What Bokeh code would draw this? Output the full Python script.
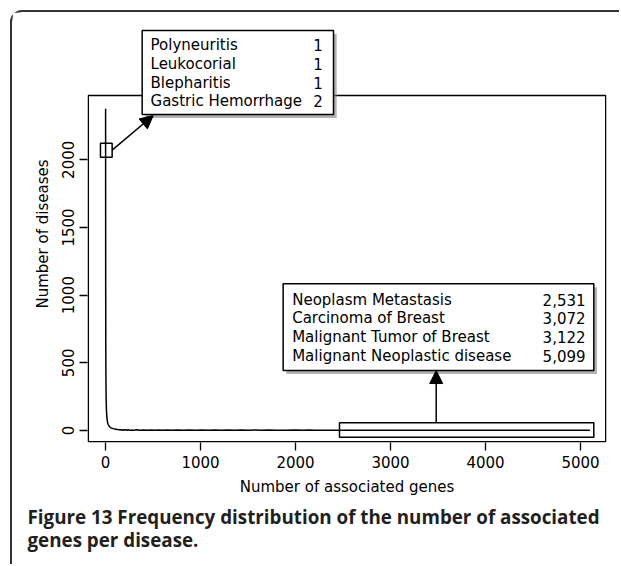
from bokeh.plotting import figure
from bokeh.models import (Range1d, FixedTicker, BoxAnnotation, Label, Arrow,
                          NormalHead, ColumnDataSource, Title)
from bokeh.embed import file_html
from bokeh.resources import INLINE

# ---- data ----
genes = [1, 2, 3, 4, 5, 6, 7, 8, 9, 10, 11, 12, 13, 14, 15, 16, 18, 20, 22, 25,
         28, 32, 36, 40, 45, 50, 55, 60, 70, 80, 90, 100,
         105, 110, 115, 120, 125, 130, 135, 140, 145, 150, 160, 170, 180, 190,
         200, 215, 230, 245, 260, 280, 300, 330, 360, 400, 440, 480, 520, 560,
         600, 650, 700, 760, 820, 880, 950, 1010, 1080, 1150, 1220, 1290, 1360,
         1430, 1500, 1570, 1640, 1720, 1800, 1900, 2000, 2080, 2150, 2200,
         2530, 2531, 2540, 3070, 3072, 3080, 3122, 5099]
diseases = [2378, 1050, 640, 460, 350, 285, 235, 200, 175, 152, 136, 123, 112,
            102, 94, 87, 76, 67, 60, 52, 46, 40, 35, 31, 27, 24, 21, 19, 16, 14,
            12, 10,
            9, 11, 7, 10, 6, 9, 5, 8, 4, 7, 3, 6, 2, 5,
            3, 6, 2, 5, 1, 4, 1, 5, 1, 4, 1, 3, 1, 4,
            1, 3, 1, 4, 1, 3, 1, 4, 1, 3, 1, 4, 1,
            3, 1, 4, 1, 3, 1, 1, 3, 1, 4, 1,
            1, 3, 1, 1, 3, 1, 1, 1]

x_ticks = [0, 1000, 2000, 3000, 4000, 5000]
y_ticks = [0, 500, 1000, 1500, 2000]
x_lim = (-189.5, 5273.7)
y_lim = (-88.7, 2475)

low_names = ["Polyneuritis", "Leukocorial", "Blepharitis", "Gastric Hemorrhage"]
low_counts = ["1", "1", "1", "2"]
high_names = ["Neoplasm Metastasis", "Carcinoma of Breast",
              "Malignant Tumor of Breast", "Malignant Neoplastic disease"]
high_counts = ["2,531", "3,072", "3,122", "5,099"]

x_label = "Number of associated genes"
y_label = "Number of diseases"
caption = ("Figure 13 Frequency distribution of the number of associated\n"
           "genes per disease.")

FONT = "DejaVu Sans"

p = figure(width=609, height=554, output_backend="svg", toolbar_location=None,
           x_range=Range1d(*x_lim), y_range=Range1d(y_lim[0], 2992.2),
           min_border_left=75, min_border_right=15, min_border_top=13,
           min_border_bottom=124)
p.styles = {"margin-left": "10px", "margin-top": "10px",
            "border-left": "2px solid #333333", "border-top": "2px solid #333333",
            "border-top-left-radius": "12px"}
p.grid.visible = False
p.outline_line_color = None
p.background_fill_color = "white"
p.border_fill_color = "white"

# the axes box (frame is taller to leave room for the upper callout)
p.add_layout(BoxAnnotation(left=x_lim[0] + 8, right=x_lim[1] - 8,
                           bottom=y_lim[0] + 5.5, top=y_lim[1],
                           fill_alpha=0, line_color="black", line_alpha=1,
                           line_width=1.5))

src = ColumnDataSource(dict(x=genes, y=diseases))
p.line("x", "y", source=src, line_color="black", line_width=1.5)

for ax in (p.xaxis[0], p.yaxis[0]):
    ax.axis_line_color = None
    ax.major_tick_line_color = "black"
    ax.major_tick_line_width = 1.3
    ax.major_tick_in = 0
    ax.major_tick_out = 8
    ax.minor_tick_line_color = None
    ax.major_label_text_font = FONT
    ax.major_label_text_font_size = "15px"
    ax.major_label_text_color = "black"
    ax.axis_label_text_font = FONT
    ax.axis_label_text_font_size = "15px"
    ax.axis_label_text_font_style = "normal"
    ax.axis_label_text_color = "black"

p.xaxis.ticker = FixedTicker(ticks=x_ticks)
p.yaxis.ticker = FixedTicker(ticks=y_ticks)
p.xaxis.axis_label = x_label
p.yaxis.axis_label = y_label
p.yaxis.major_label_orientation = "vertical"
p.xaxis.major_label_standoff = 5
p.xaxis.axis_label_standoff = 7
p.yaxis.major_label_standoff = 5
p.yaxis.axis_label_standoff = 8

# small markers around data regions
p.add_layout(BoxAnnotation(left=-53, right=70, bottom=2019, top=2123,
                           fill_alpha=0, line_color="black", line_alpha=1,
                           line_width=1.5))
p.add_layout(BoxAnnotation(left=2463, right=5140, bottom=-50, top=57,
                           fill_alpha=0, line_color="black", line_alpha=1,
                           line_width=1.5))

# callout boxes with shadows
def callout(l, r, b, t, names, counts, tx_left, tx_right, rows):
    dx, dy = 34, 26
    p.add_layout(BoxAnnotation(left=l + dx, right=r + dx, bottom=b - dy, top=t - dy,
                               fill_color="#808080", fill_alpha=0.6,
                               line_color=None))
    p.add_layout(BoxAnnotation(left=l, right=r, bottom=b, top=t,
                               fill_color="white", fill_alpha=1,
                               line_color="black", line_alpha=1, line_width=1.5))
    for nm, ct, yy in zip(names, counts, rows):
        p.add_layout(Label(x=tx_left, y=yy, text=nm, text_font=FONT,
                           text_font_size="15px", text_baseline="middle",
                           text_align="left", text_color="black"))
        p.add_layout(Label(x=tx_right, y=yy, text=ct, text_font=FONT,
                           text_font_size="15px", text_baseline="middle",
                           text_align="right", text_color="black"))

callout(386, 2400, 2335, 2955, low_names, low_counts, 474, 2287,
        [2850, 2709, 2571, 2433])
callout(1870, 5140, 443, 1084, high_names, high_counts, 1965, 5053,
        [966, 830, 689, 549])

p.add_layout(Arrow(end=NormalHead(size=13, fill_color="black", line_color="black"),
                   x_start=70, y_start=2071, x_end=502, y_end=2327,
                   line_color="black", line_width=1.5))
p.add_layout(Arrow(end=NormalHead(size=13, fill_color="black", line_color="black"),
                   x_start=3481, y_start=57, x_end=3481, y_end=443,
                   line_color="black", line_width=1.5))

# caption
p.add_layout(Title(text=caption, align="left", offset=-60, standoff=8,
                   text_font="Open Sans", text_font_size="18.8px",
                   text_line_height=0.9,
                   text_font_style="bold", text_color="#231f20"), "below")

open("out.html", "w").write(file_html(p, INLINE))
